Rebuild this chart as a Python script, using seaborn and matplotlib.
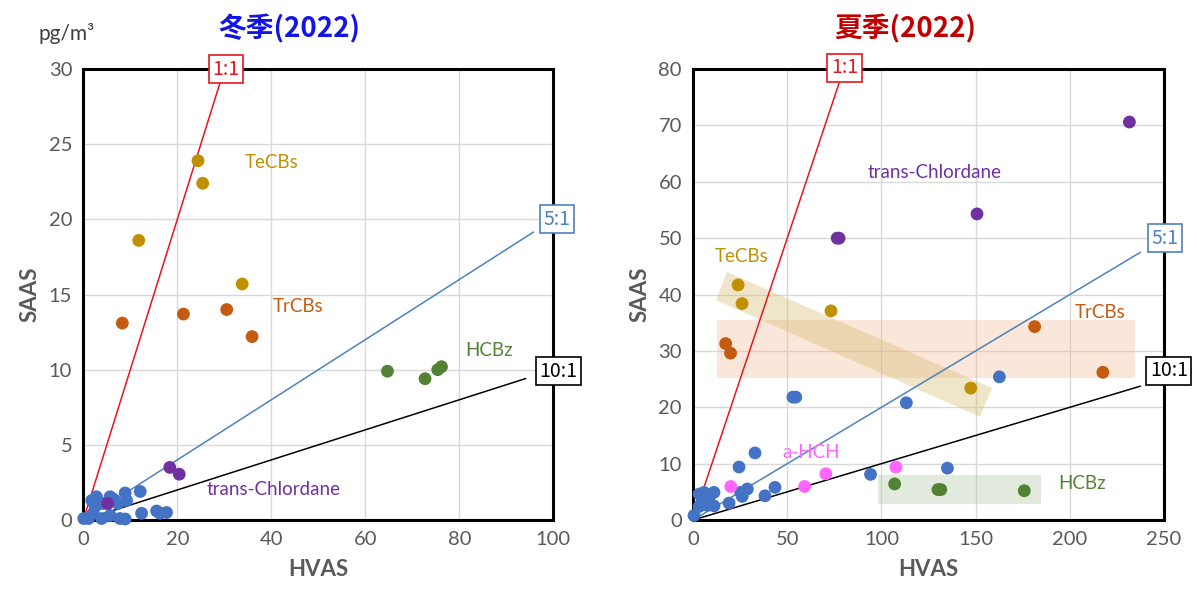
import numpy as np
import pandas as pd
import matplotlib
matplotlib.use("Agg")
import matplotlib.pyplot as plt
from matplotlib.patches import Polygon, Rectangle
import seaborn as sns

# ---- 冬季(2022) : HVAS vs SAAS, pg/m3 ----
w_blue_x = [0.1, 1.1, 1.8, 2.1, 2.5, 2.8, 3.9, 4.3, 5.7, 5.7, 6.4, 7.4, 7.8, 8.9, 8.9, 9.2, 12.1, 12.4, 15.6, 16.3, 17.7]
w_blue_y = [0.1, 0.1, 1.3, 0.45, 0.9, 1.55, 0.1, 1.1, 1.55, 0.3, 1.4, 1.1, 0.1, 1.8, 0.07, 1.3, 1.9, 0.45, 0.6, 0.45, 0.5]
w_tecb_x = [24.4, 25.4, 11.8, 33.8]
w_tecb_y = [23.9, 22.4, 18.6, 15.7]
w_trcb_x = [8.3, 21.3, 30.5, 35.9]
w_trcb_y = [13.1, 13.7, 14.0, 12.2]
w_hcbz_x = [64.7, 72.7, 75.4, 76.2]
w_hcbz_y = [9.9, 9.4, 10.0, 10.2]
w_chl_x = [5.2, 18.4, 20.4]
w_chl_y = [1.1, 3.5, 3.05]

# ---- 夏季(2022) ----
s_blue_x = [0.5, 3.2, 5.8, 11.1, 4.9, 8.5, 11.1, 7.6, 3.2, 19.1, 24.4, 32.9, 25.3, 28.8, 26.1,
            38.2, 43.5, 94.2, 53.0, 54.5, 113.2, 135.0, 162.6]
s_blue_y = [0.8, 4.6, 4.9, 4.9, 3.4, 3.4, 2.5, 2.6, 2.4, 3.0, 9.4, 11.9, 4.9, 5.5, 4.2,
            4.3, 5.8, 8.1, 21.8, 21.8, 20.8, 9.2, 25.4]
s_tecb_x = [23.9, 26.0, 73.2, 147.4]
s_tecb_y = [41.7, 38.4, 37.1, 23.4]
s_trcb_x = [17.3, 19.9, 181.3, 217.5]
s_trcb_y = [31.3, 29.6, 34.3, 26.2]
s_hcbz_x = [107.0, 130.0, 131.5, 175.8]
s_hcbz_y = [6.4, 5.4, 5.4, 5.2]
s_chl_x = [77.5, 76.5, 150.7, 231.6]
s_chl_y = [50.0, 50.0, 54.3, 70.6]
s_hch_x = [20.0, 59.2, 70.5, 107.7]
s_hch_y = [5.95, 5.95, 8.2, 9.4]

ratios = ["1:1", "5:1", "10:1"]
ratio_slopes = [1.0, 0.2, 0.1]
ratio_colors = ["#E8141E", "#4F81BD", "#000000"]

palette = {"other": "#4472C4", "TeCBs": "#BF9000", "TrCBs": "#C55A11",
           "HCBz": "#548235", "trans-Chlordane": "#7030A0", "a-HCH": "#FF66FF"}


def make_df(groups):
    rows = []
    for name, xs, ys in groups:
        for x, y in zip(xs, ys):
            rows.append((name, x, y))
    return pd.DataFrame(rows, columns=["compound", "HVAS", "SAAS"])


winter = make_df([("other", w_blue_x, w_blue_y), ("TeCBs", w_tecb_x, w_tecb_y),
                  ("TrCBs", w_trcb_x, w_trcb_y), ("HCBz", w_hcbz_x, w_hcbz_y),
                  ("trans-Chlordane", w_chl_x, w_chl_y)])
summer = make_df([("other", s_blue_x, s_blue_y), ("TeCBs", s_tecb_x, s_tecb_y),
                  ("TrCBs", s_trcb_x, s_trcb_y), ("HCBz", s_hcbz_x, s_hcbz_y),
                  ("trans-Chlordane", s_chl_x, s_chl_y), ("a-HCH", s_hch_x, s_hch_y)])

sns.set_theme(style="white")
plt.rcParams['font.family'] = ['Lato', 'Noto Sans CJK JP', 'DejaVu Sans']

fig = plt.figure(figsize=(11.97, 5.95), dpi=100)
ax1 = fig.add_axes([0.0696, 0.126, 0.3927, 0.758])
ax2 = fig.add_axes([0.579, 0.126, 0.3935, 0.758])


def style_axes(ax, xmax, xstep, ymax, ystep):
    ax.set_xlim(0, xmax)
    ax.set_ylim(0, ymax)
    ax.set_xticks(np.arange(0, xmax + 1, xstep))
    ax.set_yticks(np.arange(0, ymax + 1, ystep))
    ax.grid(True, color="#D9D9D9", linewidth=1)
    ax.set_axisbelow(True)
    for sp in ax.spines.values():
        sp.set_color("black")
        sp.set_linewidth(2.2)
    ax.tick_params(length=0, labelsize=14.5, labelcolor="#595959", pad=8)


def ratio_lines(ax, line_ends, label_pos):
    for name, k, c, xe, (lx, ly) in zip(ratios, ratio_slopes, ratio_colors, line_ends, label_pos):
        ax.plot([0, xe], [0, k * xe], color=c, linewidth=1.1, zorder=2, clip_on=False)
        ax.text(lx, ly, name, color=c, fontsize=14, ha="center", va="center",
                family=["Noto Sans CJK JP", "DejaVu Sans"], zorder=6, clip_on=False,
                bbox=dict(boxstyle="square,pad=0.18", fc="white", ec=c, lw=1.2))


# winter panel
style_axes(ax1, 100, 20, 30, 5)
ratio_lines(ax1, [29.2, 95.8, 94.1], [(30.4, 30.0), (100.8, 20.0), (101.0, 9.9)])
sns.scatterplot(data=winter, x="HVAS", y="SAAS", hue="compound", palette=palette,
                s=85, edgecolor="none", legend=False, ax=ax1, zorder=4, clip_on=False)
ax1.set_xlabel("HVAS", fontsize=16, fontweight="bold", color="#595959", labelpad=8)
ax1.set_ylabel("SAAS", fontsize=16, fontweight="bold", color="#595959", labelpad=6)
ax1.text(34.4, 23.8, "TeCBs", color="#BF9000", fontsize=13.5, va="center")
ax1.text(40.3, 14.2, "TrCBs", color="#C55A11", fontsize=13.5, va="center")
ax1.text(81.2, 11.3, "HCBz", color="#548235", fontsize=13.5, va="center")
ax1.text(26.3, 2.0, "trans-Chlordane", color="#7030A0", fontsize=13.5, va="center")

# summer panel
style_axes(ax2, 250, 50, 80, 10)
ax2.add_patch(Rectangle((12.7, 25.2), 222.1, 10.3, fc="#F4B183", alpha=0.3, ec="none", zorder=1))
ax2.add_patch(Rectangle((98.3, 2.8), 86.2, 5.2, fc="#A9BE9A", alpha=0.33, ec="none", zorder=1))
ax2.add_patch(Polygon([(18.0, 44.0), (12.2, 39.0), (152.3, 18.3), (158.7, 23.4)],
                      closed=True, fc="#D4B86A", alpha=0.36, ec="none", zorder=1))
ratio_lines(ax2, [77.5, 237.5, 237.5], [(80.4, 80.2), (250.7, 50.0), (252.5, 26.5)])
sns.scatterplot(data=summer, x="HVAS", y="SAAS", hue="compound", palette=palette,
                s=85, edgecolor="none", legend=False, ax=ax2, zorder=4, clip_on=False)
ax2.set_xlabel("HVAS", fontsize=16, fontweight="bold", color="#595959", labelpad=8)
ax2.set_ylabel("SAAS", fontsize=16, fontweight="bold", color="#595959", labelpad=6)
ax2.text(11.7, 46.8, "TeCBs", color="#BF9000", fontsize=13.5, va="center")
ax2.text(92.9, 61.6, "trans-Chlordane", color="#7030A0", fontsize=13.5, va="center")
ax2.text(202.8, 36.9, "TrCBs", color="#C55A11", fontsize=13.5, va="center")
ax2.text(47.2, 11.9, "a-HCH", color="#FF66FF", fontsize=13.5, va="center")
ax2.text(193.7, 6.4, "HCBz", color="#548235", fontsize=13.5, va="center")

fig.text(0.242, 0.952, "冬季(2022)", color="#1414E6", fontsize=20, fontweight="bold",
         ha="center", va="center", family=["Noto Sans CJK JP", "DejaVu Sans"])
fig.text(0.756, 0.952, "夏季(2022)", color="#C00000", fontsize=20, fontweight="bold",
         ha="center", va="center", family=["Noto Sans CJK JP", "DejaVu Sans"])
fig.text(0.032, 0.944, "pg/m³", color="#404040", fontsize=15, ha="left", va="center")

fig.savefig("out.png", dpi=100)
